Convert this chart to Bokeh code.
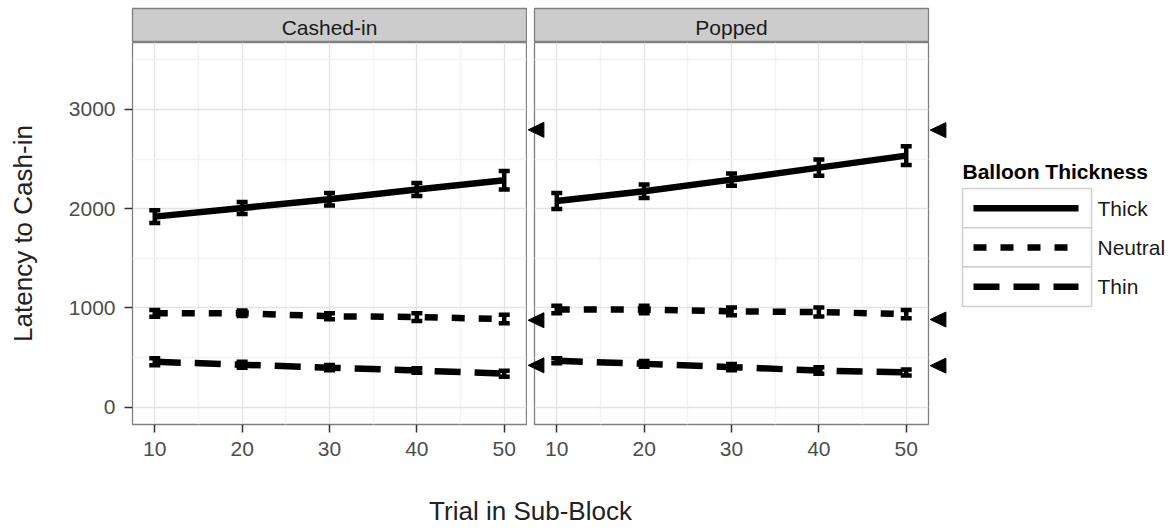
from bokeh.plotting import figure
from bokeh.models import (Range1d, FixedTicker, Whisker, TeeHead, ColumnDataSource,
                          Label, Grid)
from bokeh.layouts import row, column
from bokeh.embed import file_html
from bokeh.resources import INLINE
from bokeh.core.properties import value

# ---- data -------------------------------------------------------------
trials = [10, 20, 30, 40, 50]
panels = ["Cashed-in", "Popped"]
thickness = ["Thick", "Neutral", "Thin"]

cashed_thick = [1920, 2007, 2095, 2194, 2287]
cashed_thick_se = [65, 61, 64, 65, 94]
cashed_neutral = [946, 946, 916, 908, 888]
cashed_neutral_se = [34, 27, 30, 39, 42]
cashed_thin = [457, 428, 398, 369, 337]
cashed_thin_se = [35, 30, 27, 22, 30]

popped_thick = [2078, 2176, 2293, 2414, 2535]
popped_thick_se = [81, 67, 61, 81, 94]
popped_neutral = [984, 984, 965, 958, 938]
popped_neutral_se = [37, 37, 39, 45, 42]
popped_thin = [467, 436, 403, 369, 350]
popped_thin_se = [25, 29, 32, 32, 30]

# levels flagged by the arrowheads at the right edge of each panel
cashed_marks = [2795, 876, 421]
popped_marks = [2792, 883, 418]

x_ticks = [10, 20, 30, 40, 50]
x_minor = [15, 25, 35, 45]
y_ticks = [0, 1000, 2000, 3000]
y_minor = [500, 1500, 2500, 3500]

# ---- styling ----------------------------------------------------------
FONT = "Liberation Sans"
DASH = {"Thick": "solid", "Neutral": "13 14", "Thin": "26 14"}
X_RANGE = (7.45, 52.55)
Y_RANGE = (-175, 3675)

STRIP_H = 42
PANEL_H = 430
FRAME_W = 394
LEFT_BL, LEFT_BR = 132, 1
RIGHT_BL, RIGHT_BR = 7, 23
LEFT_W = LEFT_BL + FRAME_W + LEFT_BR
RIGHT_W = RIGHT_BL + FRAME_W + RIGHT_BR
LEGEND_W = 1169 - LEFT_W - RIGHT_W
XLAB_H = 529 - STRIP_H - PANEL_H

px_per_unit = FRAME_W / (X_RANGE[1] - X_RANGE[0])
py_per_unit = (PANEL_H - 48) / (Y_RANGE[1] - Y_RANGE[0])


def make_strip(label, width, bl, br):
    s = figure(width=width, height=STRIP_H, x_range=Range1d(0, 1), y_range=Range1d(0, 1),
               output_backend="svg", toolbar_location=None,
               x_axis_location=None, y_axis_location=None,
               min_border_left=bl, min_border_right=br, min_border_top=8, min_border_bottom=0)
    s.grid.visible = False
    s.background_fill_color = "#cccccc"
    s.border_fill_color = "white"
    s.outline_line_color = "#808080"
    s.outline_line_width = 1.3
    s.add_layout(Label(x=0.5, y=0.45, text=label, text_align="center", text_baseline="middle",
                       text_font_size="21px", text_font=FONT, text_color="#1a1a1a"))
    return s


def make_panel(series, show_y, width, bl, br):
    p = figure(width=width, height=PANEL_H, x_range=Range1d(*X_RANGE), y_range=Range1d(*Y_RANGE),
               output_backend="svg", toolbar_location=None,
               y_axis_location="left" if show_y else None,
               min_border_left=bl, min_border_right=br, min_border_top=0, min_border_bottom=48)
    p.background_fill_color = "white"
    p.border_fill_color = "white"
    p.outline_line_color = "#808080"
    p.outline_line_width = 1.3

    xt = FixedTicker(ticks=x_ticks, minor_ticks=x_minor)
    yt = FixedTicker(ticks=y_ticks, minor_ticks=y_minor)
    p.xaxis.ticker = xt
    p.xgrid.ticker = xt
    if len(p.ygrid) == 0:
        p.add_layout(Grid(dimension=1, ticker=yt))
    p.ygrid.ticker = yt
    for g in list(p.xgrid) + list(p.ygrid):
        g.grid_line_color = "#e3e3e3"
        g.grid_line_width = 1.3
        g.minor_grid_line_color = "#f3f3f3"
        g.minor_grid_line_width = 1.5

    axes = list(p.xaxis) + (list(p.yaxis) if show_y else [])
    for ax in axes:
        ax.axis_line_color = None
        ax.major_tick_line_color = "#333333"
        ax.major_tick_line_width = 1.5
        ax.major_tick_out = 8
        ax.major_tick_in = 0
        ax.minor_tick_line_color = None
        ax.major_label_text_font = FONT
        ax.major_label_text_font_size = "21px"
        ax.major_label_text_color = "#4d4d4d"
    p.xaxis.major_label_standoff = 9
    if show_y:
        p.yaxis.ticker = yt
        p.yaxis.major_label_standoff = 9
        p.yaxis.axis_label = "Latency to Cash-in"
        p.yaxis.axis_label_text_font = FONT
        p.yaxis.axis_label_text_font_size = "26px"
        p.yaxis.axis_label_text_font_style = "normal"
        p.yaxis.axis_label_text_color = "#222222"
        p.yaxis.axis_label_standoff = 28

    for name, (means, se) in series.items():
        src = ColumnDataSource(dict(
            x=trials, y=means,
            lo=[m - e for m, e in zip(means, se)],
            hi=[m + e for m, e in zip(means, se)]))
        p.line("x", "y", source=src, line_color="black", line_width=6.5,
               line_dash=DASH[name], line_cap="butt")
        p.add_layout(Whisker(source=src, base="x", lower="lo", upper="hi",
                             line_color="black", line_width=4.5,
                             lower_head=TeeHead(size=11, line_width=4.5, line_color="black"),
                             upper_head=TeeHead(size=11, line_width=4.5, line_color="black")))
    return p


def arrowhead(level, edge_x):
    """Left-pointing triangle just right of a panel edge (edge_x in data units)."""
    tip = edge_x + 1.7 / px_per_unit
    base = edge_x + 17.4 / px_per_unit
    half = 7.5 / py_per_unit
    return [tip, base, base], [level, level + half, level - half]


strip_l = make_strip(panels[0], LEFT_W, LEFT_BL, LEFT_BR)
strip_r = make_strip(panels[1], RIGHT_W, RIGHT_BL, RIGHT_BR)

panel_l = make_panel({"Thick": (cashed_thick, cashed_thick_se),
                      "Neutral": (cashed_neutral, cashed_neutral_se),
                      "Thin": (cashed_thin, cashed_thin_se)},
                     True, LEFT_W, LEFT_BL, LEFT_BR)
panel_r = make_panel({"Thick": (popped_thick, popped_thick_se),
                      "Neutral": (popped_neutral, popped_neutral_se),
                      "Thin": (popped_thin, popped_thin_se)},
                     False, RIGHT_W, RIGHT_BL, RIGHT_BR)

# Arrowheads sit outside the panel frames; both sets are drawn from the right panel
# (the left-panel set lies in the gap between the panels), one polygon group per level.
gap_units = (LEFT_BR + RIGHT_BL) / px_per_unit
mx, my = [], []
for c_lv, p_lv in zip(cashed_marks, popped_marks):
    cx, cy = arrowhead(c_lv, X_RANGE[0] - gap_units)
    px_, py_ = arrowhead(p_lv, X_RANGE[1])
    mx.append([[cx], [px_]])
    my.append([[cy], [py_]])
panel_r.multi_polygons(xs=mx, ys=my, fill_color="black", line_color="black",
                       line_width=1, level="overlay")

# ---- legend -----------------------------------------------------------
LEG_H = STRIP_H + PANEL_H
leg = figure(width=LEGEND_W, height=LEG_H, x_range=Range1d(0, LEGEND_W), y_range=Range1d(LEG_H, 0),
             output_backend="svg", toolbar_location=None,
             x_axis_location=None, y_axis_location=None, min_border=0)
leg.grid.visible = False
leg.outline_line_color = None
leg.background_fill_color = "white"
leg.border_fill_color = "white"

key_left, key_w, key_top, key_h = 11, 129, 188, 39.3
leg.text(x=[key_left], y=[171], text=["Balloon Thickness"], text_font=value(FONT),
         text_font_size="21px", text_font_style="bold", text_color="black",
         text_baseline="middle", text_align="left")
for i, name in enumerate(thickness):
    top = key_top + i * key_h
    mid = top + key_h / 2
    leg.quad(left=[key_left], right=[key_left + key_w], top=[top], bottom=[top + key_h],
             fill_color="white", line_color="#d0d0d0", line_width=1.5)
    leg.line(x=[key_left + 11, key_left + key_w - 13], y=[mid, mid], line_color="black",
             line_width=6.5, line_dash=DASH[name], line_cap="butt")
    leg.text(x=[key_left + key_w + 6], y=[mid], text=[name], text_font=value(FONT),
             text_font_size="21px", text_color="#1a1a1a", text_baseline="middle",
             text_align="left")

# ---- shared x-axis title ----------------------------------------------
xlab = figure(width=1169, height=XLAB_H, x_range=Range1d(0, 1169), y_range=Range1d(XLAB_H, 0),
              output_backend="svg", toolbar_location=None,
              x_axis_location=None, y_axis_location=None, min_border=0)
xlab.grid.visible = False
xlab.outline_line_color = None
xlab.border_fill_color = "white"
centre = (LEFT_BL + LEFT_W + RIGHT_BL + FRAME_W) / 2
xlab.text(x=[centre], y=[38], text=["Trial in Sub-Block"], text_font=value(FONT),
          text_font_size="26px", text_color="#222222", text_align="center",
          text_baseline="middle")

layout = column(row(column(strip_l, panel_l), column(strip_r, panel_r), leg), xlab)

open("out.html", "w").write(file_html(layout, INLINE))
